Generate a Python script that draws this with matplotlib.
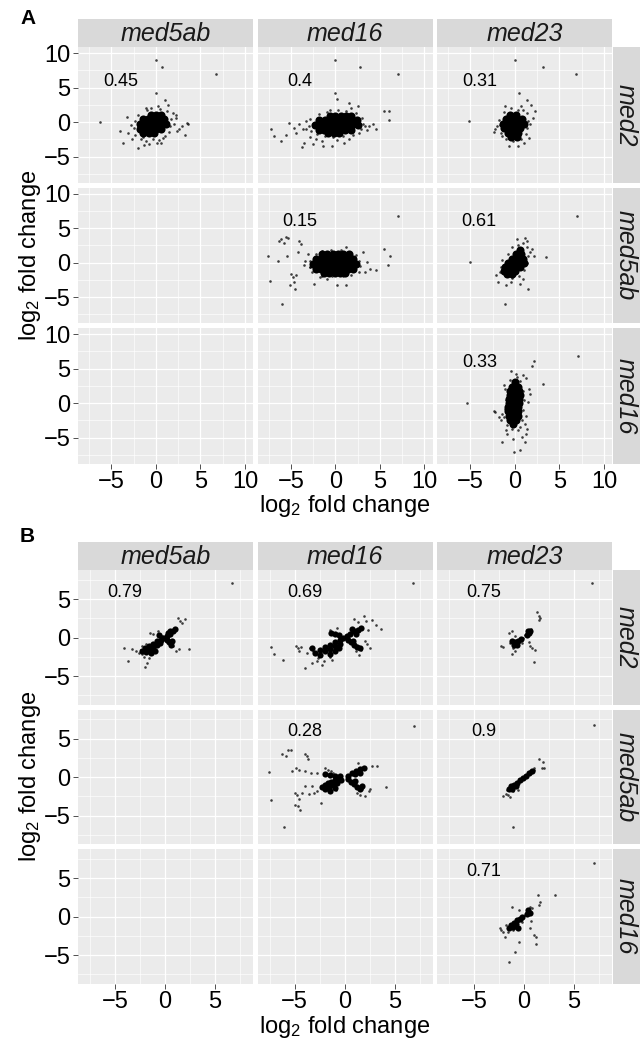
import matplotlib
matplotlib.use("Agg")
import matplotlib.pyplot as plt

plt.rcParams['font.family'] = ['Liberation Sans', 'DejaVu Sans']
plt.rcParams['mathtext.fontset'] = 'custom'
plt.rcParams['mathtext.rm'] = 'Liberation Sans'
plt.rcParams['mathtext.it'] = 'Liberation Sans:italic'

W, H = 642, 1039

col_names = ['med5ab', 'med16', 'med23']
row_names = ['med2', 'med5ab', 'med16']

# correlation labels, (row, col) in the upper triangle
corr_a = {(0, 0): '0.45', (0, 1): '0.4', (0, 2): '0.31',
          (1, 1): '0.15', (1, 2): '0.61', (2, 2): '0.33'}
corr_b = {(0, 0): '0.79', (0, 1): '0.69', (0, 2): '0.75',
          (1, 1): '0.28', (1, 2): '0.9', (2, 2): '0.71'}

ticks_a = [-5, 0, 5, 10]
ticks_b = [-5, 0, 5]
minor_ticks = [-7.5, -2.5, 2.5, 7.5]

# ---- panel A: scattered points and dense cores (log2 fold change) ----
a11_pts = [(0, 9.0), (0.65, 8.0), (6.7, 7.0), (0, 4.3), (-6.3, 0), (1, 3.2), (3.5, -0.1),
           (3.6, -0.2), (3.3, -1.8), (2.6, -1), (2.9, -0.6), (-3.7, -3), (-3.3, 0.7), (-4, -1.3),
           (-2, -3.7), (-1.3, -3.3), (0.1, -3), (1.35, 2.5), (-3.1, -1.5), (-2.7, -2.5),
           (-0.8, -3.2), (1.9, 1.3), (1.7, 0.4), (2.3, 0.6), (0.6, -3), (-1.7, -2.5), (-1.15, 2.0),
           (0.2, 2.3), (-2.4, 0.2), (-2.5, -0.8), (-2.3, -1.8), (-1.0, 1.7), (0.5, 1.9), (1.6, -0.5),
           (1.5, -1.4), (0.8, -2.3), (-0.3, -2.5), (-1.5, -2.2), (2.0, -0.2), (-2.8, -0.4),
           (1.2, 1.6), (-0.5, 2.0), (2.2, 1.0), (-2.0, 1.0), (1.0, -2.0), (-1.1, -2.8),
           (0.4, -2.6), (2.4, -1.3)]
a11_core = [(-0.6, 1.0), (0.0, 1.0), (0.6, 1.0),
            (-1.5, 0.4), (-0.9, 0.4), (-0.3, 0.4), (0.3, 0.4), (0.9, 0.4),
            (-1.8, -0.3), (-1.2, -0.3), (-0.6, -0.3), (0.0, -0.3), (0.6, -0.3), (1.1, -0.3),
            (-1.8, -1.0), (-1.2, -1.0), (-0.6, -1.0), (0.0, -1.0), (0.6, -1.0),
            (-1.4, -1.6), (-0.8, -1.6), (-0.2, -1.6)]

a12_pts = [(0, 9), (2.8, 8), (7, 7), (0, 4.3), (0.2, 3.3), (-7.2, -1), (-6.9, -2), (-6.1, -2.8),
           (-5.6, -1.8), (-5.2, -0.1), (-4.7, -0.8), (-4.4, -1.6), (-3.8, -3.6), (-3.5, -2.95),
           (-2.9, -2.2), (-4.1, -0.2), (-3.65, -1.05), (-3.3, 0.15), (-2.5, -3.2), (-1.35, -3.4),
           (-0.4, -3.4), (1, -2.95), (1.5, 2.75), (2.5, 2.3), (3.3, -0.6), (3.8, -0.5), (4.2, -0.3),
           (3.5, -1.15), (4.6, -1.05), (5.4, 1.6), (6, 1.6), (6.0, 0.3), (2.0, -1.9), (1.5, -2.5),
           (-2.1, -1.75), (-1.55, -2.7), (-0.6, 1.8), (1.7, 2.05), (-3.0, -0.5), (-2.9, 0.4),
           (-2.7, -1.3), (-1.8, 1.2), (-0.9, 1.5), (0.3, 1.7), (1.2, 1.6), (2.3, 1.3), (3.0, 0.6),
           (3.1, -0.2), (2.9, -1.0), (2.6, -1.5), (0.9, -2.0), (-0.3, -2.2), (-1.2, -2.0),
           (-3.3, -1.0), (-2.2, -2.4), (0.2, -2.6)]
a12_core = [(-0.6, 0.9), (0.0, 0.9), (0.6, 0.9), (1.2, 0.9), (1.8, 0.9),
            (-1.8, 0.3), (-1.2, 0.3), (-0.6, 0.3), (0, 0.3), (0.6, 0.3), (1.2, 0.3), (1.8, 0.3), (2.4, 0.3),
            (-2.3, -0.4), (-1.7, -0.4), (-1.1, -0.4), (-0.5, -0.4), (0.1, -0.4), (0.7, -0.4),
            (1.3, -0.4), (1.9, -0.4), (2.5, -0.4),
            (-1.9, -1.1), (-1.3, -1.1), (-0.7, -1.1), (-0.1, -1.1), (0.5, -1.1), (1.1, -1.1), (1.7, -1.1),
            (-0.8, -1.6), (-0.2, -1.6), (0.4, -1.6)]

a13_pts = [(0, 9), (3.15, 8), (6.9, 7), (0.45, 4.3), (-5.2, 0.15), (1.4, 3.2), (1.8, 2.5),
           (-2.2, -1.05), (-2, -0.6), (-0.7, -3.4), (0.3, -3.4), (1.05, -2.95), (2.2, 1.6), (2, 0.6),
           (-1.1, 2.3), (0.65, 2.3), (-1.8, 0.3), (-1.7, -0.4), (-1.6, -1.5), (-1.2, 1.5), (0.3, 1.8),
           (1.3, 1.3), (1.5, 0.2), (1.4, -0.8), (1.2, -1.7), (0.7, -2.4), (-0.2, -2.7), (-1.0, -2.5),
           (-1.4, -2.0), (-0.4, 2.0), (1.7, -0.2), (0.9, 1.7), (-2.3, -1.4), (1.6, -2.3)]
a13_core = [(-0.5, 1.1), (0.1, 1.1),
            (-1.0, 0.5), (-0.4, 0.5), (0.2, 0.5), (0.8, 0.5),
            (-1.3, -0.2), (-0.7, -0.2), (-0.1, -0.2), (0.5, -0.2), (1.0, -0.2),
            (-1.2, -0.9), (-0.6, -0.9), (0.0, -0.9), (0.6, -0.9),
            (-0.8, -1.6), (-0.2, -1.6), (0.4, -1.6),
            (-0.4, -2.2), (0.2, -2.2)]

a22_pts = [(7, 6.8), (-6.04, -6.0), (-7.6, 0.9), (-7.3, -2.7), (-6.35, 3.15), (-5.8, 2.9),
           (-5.5, 3.75), (-5.3, 3.6), (-6.15, 3.5), (-6.4, 0.3), (-5.4, 1.0), (-5, -1.6), (-4.8, -2.1),
           (-5.1, -3.2), (-4.5, -3.85), (-4.7, -2.8), (-4.2, 1.5), (-4.05, 3.15), (-3.85, 2.7),
           (-3.45, 0.3), (-3.1, 1.25), (-2.9, -0.65), (-2.4, -3.05), (0.2, -3.3), (5.4, 2.05),
           (6.1, 0.9), (5.9, -0.3), (4.6, -1.0), (3.85, -0.9), (3.1, 1.5), (3.5, 0.05), (1.15, -3.3),
           (-4.4, -1.85), (-1.7, -2.1), (-2.9, 0.2), (-2.8, -0.7), (-2.6, -1.3), (-2.2, 1.2),
           (-1.5, 1.7), (-0.5, 1.9), (0.6, 1.8), (1.5, 1.6), (2.3, 1.1), (2.7, 0.3), (2.8, -0.5),
           (2.6, -1.3), (1.8, -1.8), (0.8, -2.0), (-0.4, -2.0), (-1.5, -1.9), (3.3, -1.3),
           (-3.5, -0.3), (1.2, 2.2), (-1.0, -2.4)]
a22_core = [(-1.5, 1.2), (-0.9, 1.2), (-0.3, 1.2), (0.3, 1.2), (0.9, 1.2), (1.5, 1.2),
            (-2.2, 0.5), (-1.6, 0.5), (-1.0, 0.5), (-0.4, 0.5), (0.2, 0.5), (0.8, 0.5), (1.4, 0.5), (2.0, 0.5),
            (-2.5, -0.2), (-1.9, -0.2), (-1.3, -0.2), (-0.7, -0.2), (-0.1, -0.2), (0.5, -0.2),
            (1.1, -0.2), (1.7, -0.2), (2.3, -0.2),
            (-2.2, -0.9), (-1.6, -0.9), (-1.0, -0.9), (-0.4, -0.9), (0.2, -0.9), (0.8, -0.9),
            (1.4, -0.9), (2.0, -0.9),
            (-1.3, -1.5), (-0.7, -1.5), (-0.1, -1.5), (0.5, -1.5), (1.1, -1.5)]

a23_pts = [(7, 6.8), (-5.1, 0.15), (-1.15, -6.0), (3.45, 0.85), (1.45, -3.85), (0.2, 3.4),
           (1.15, 3.6), (1.35, 3.15), (1.9, 1.95), (2.1, 1.0), (-2.1, -1.85), (-1.9, -2.8),
           (-0.95, -3.3), (0.6, -3.05), (0.95, -2.35), (-0.4, -2.8), (-1.6, -0.6), (-1.5, 0.4),
           (-0.8, 1.2), (-0.3, 2.2), (0.4, 2.5), (1.3, 2.2), (1.5, 1.0), (1.4, 0.0), (1.0, -1.0),
           (0.5, -1.9), (-0.3, -2.2), (-1.0, -2.0), (-1.7, -1.3), (0.9, 2.9), (1.7, 1.6)]
a23_core = [(0.6, 1.8), (0.1, 1.2), (0.7, 1.2),
            (-0.3, 0.6), (0.3, 0.6), (0.9, 0.6),
            (-0.8, 0.0), (-0.2, 0.0), (0.4, 0.0), (1.0, 0.0),
            (-1.1, -0.6), (-0.5, -0.6), (0.1, -0.6), (0.6, -0.6),
            (-1.2, -1.2), (-0.6, -1.2), (0.0, -1.2),
            (-0.9, -1.7), (-0.3, -1.7)]

a33_pts = [(7.05, 6.9), (-5.4, 0), (2.15, 6.05), (1.95, 5.35), (3.1, 2.8), (-0.45, 4.6),
           (-1.4, -5.6), (-0.1, -7.05), (0.6, -6.8), (1.1, -5.6), (1.25, -4.4), (0.8, -4.9),
           (-0.85, -4.4), (-0.25, -5.15), (-1.05, -3.95), (0.3, -3.95), (-2.2, -1.35), (-2.4, -1.2),
           (-1.8, -2.05), (-1.6, -2.5), (1.6, 2.0), (1.45, 0.1), (1.65, 1.3), (1.25, 3.65),
           (0.95, 4.15), (0.1, 4.25), (-1.2, 2.7), (1.1, -3.0), (1.35, -3.7), (-1.1, 2.0),
           (-1.0, 0.5), (-1.1, -0.8), (-1.2, -2.0), (-0.9, -3.2), (0.6, -3.4), (0.8, -2.4),
           (0.9, -1.0), (1.0, 0.5), (0.9, 1.8), (0.6, 3.2), (-0.6, 3.4), (0.2, 3.8), (-1.4, -1.6),
           (1.2, -1.8), (-0.3, -3.8)]
a33_core = [(0.0, 3.0), (-0.3, 2.4), (0.3, 2.4),
            (-0.5, 1.8), (0.0, 1.8), (0.5, 1.8),
            (-0.6, 1.2), (0.0, 1.2), (0.6, 1.2),
            (-0.7, 0.6), (-0.1, 0.6), (0.5, 0.6),
            (-0.7, 0.0), (-0.1, 0.0), (0.5, 0.0),
            (-0.8, -0.6), (-0.2, -0.6), (0.4, -0.6),
            (-0.8, -1.2), (-0.2, -1.2), (0.4, -1.2),
            (-0.7, -1.8), (-0.1, -1.8), (0.4, -1.8),
            (-0.5, -2.4), (0.1, -2.4), (-0.2, -3.0)]

# ---- panel B ----
b11_pts = [(6.65, 7.05), (-4.15, -1.4), (-3.7, -3.05), (-3.3, -1.5), (-2.9, -1.8), (-2.6, -2.05),
           (-2.3, -2.15), (-2, -3.8), (-1.8, -3.35), (-1.6, -2.7), (-2.1, -2.5), (-2.45, -1.6),
           (-2.3, -1.15), (-1.95, -0.85), (-1.55, 0.55), (-1.25, 0.45), (-0.75, 0.8), (-0.6, -0.3),
           (-0.3, 0.15), (0.15, 0.55), (0.45, 0.8), (0.8, 1.0), (0.95, 1.3), (1.3, 2.6), (1.45, 2.15),
           (1.95, 2.4), (1.65, 1.85), (0.25, -0.5), (0.5, -0.75), (0.8, -1.05), (1.1, -1.8),
           (1.4, -1.5), (2.4, -1.5), (0.1, -0.1)]
b11_core = [(-2.3, -1.7), (-1.9, -1.9), (-1.5, -1.6), (-2.0, -1.3), (-1.6, -1.1), (-1.2, -1.3),
            (-1.2, -0.8), (-0.8, -0.9), (-0.8, -0.5), (-0.4, -0.3), (-0.5, -0.7), (-1.0, -1.7),
            (-1.4, -2.0), (-0.2, -0.1), (0.2, 0.2), (0.5, 0.5), (0.8, 0.8), (0.5, 0.9), (1.0, 1.1),
            (0.3, 0.6), (0.2, -0.3), (0.4, -0.6), (0.6, -0.9), (0.7, -0.5), (-0.6, 0.3)]

b12_pts = [(6.85, 7.05), (-7.35, -1.25), (-7.05, -2.15), (-6.2, -2.95), (-4.85, -1.05), (-4.7, -1.4),
           (-4.35, -1.25), (-4.55, -1.8), (-4, -3.9), (-3.3, -3.25), (-2.8, -3.05), (-2.3, -3.55),
           (-2.1, -3.05), (-2.65, -2.6), (-3.15, -1.8), (-3.5, -1.4), (-3.8, -2.05), (-1.45, 1.0),
           (-0.75, 1.2), (-1.5, -2.5), (-1.25, -2.9), (0.95, 2.45), (1.3, 2.0), (1.9, 2.75),
           (2.15, 2.1), (2.75, 2.3), (3.15, 1.65), (3.6, 1.15), (1.7, 1.3), (2.3, 1.0), (2.5, -1.4),
           (2.25, -0.85), (1.65, -1.6), (1.45, -2.25), (1.15, -1.8), (2, -0.5)]
b12_core = [(-3.0, -2.0), (-2.5, -1.6), (-2.5, -2.3), (-2.0, -1.2), (-2.0, -1.8), (-1.5, -0.9),
            (-1.5, -1.5), (-1.5, -2.1), (-1.0, -0.6), (-1.0, -1.1), (-1.0, -1.7), (-0.5, -0.3),
            (-0.5, -0.8), (-0.6, -1.3), (-0.2, -0.1), (-3.3, -1.4), (-1.4, 0.6), (-1.0, 0.5),
            (-0.6, 0.3), (0.2, 0.2), (0.5, 0.5), (0.9, 0.8), (1.3, 1.0), (0.7, 1.1), (1.6, 1.2),
            (1.1, 0.5), (0.3, -0.3), (0.6, -0.6), (0.9, -0.9), (1.2, -1.2), (0.8, -0.4), (1.5, -1.3)]

b13_pts = [(6.8, 7.05), (1.25, 3.3), (1.45, 2.75), (1.6, 2.5), (1.5, 2.3), (0.25, 1.0), (0.5, 0.8),
           (0.7, 1.15), (0.05, 0.35), (-0.1, -0.1), (-1.55, 0.55), (-1.2, 0.8), (-0.95, 0.15),
           (-1.45, -0.75), (-2.3, -1.15), (-2.15, -1.25), (-1.1, -1.4), (-0.95, -1.8), (-1.2, -2.15),
           (-0.7, -0.95), (-0.45, -0.5), (-0.6, -0.3), (-0.25, -0.75), (0.6, -1.05), (0.8, -1.3),
           (1.1, -1.6), (0.5, -0.6), (1.0, -3.15), (0.35, 0.55)]
b13_core = [(-0.9, -0.6), (-0.6, -0.4), (-0.3, -0.2), (-1.0, -1.0), (-0.7, -0.9), (0.3, 0.4),
            (0.5, 0.6), (0.6, 0.9), (0.4, 0.8), (-1.2, -0.5)]

b22_pts = [(6.9, 6.7), (-6.1, -6.45), (-7.35, -2.95), (-7.6, 0.65), (-6.3, 3.0), (-5.9, 2.7),
           (-5.65, 3.55), (-5.35, 3.5), (-4.0, 3.0), (-3.8, 2.7), (-3.7, 2.4), (-5.3, 0.75),
           (-4.85, 1.15), (-4.55, 0.95), (-3.95, 0.75), (-3.4, 0.5), (-2.4, -3.4), (-5, -2.1),
           (-4.8, -2.3), (-4.6, -2.85), (-4.95, -3.6), (-4.7, -3.8), (-4.5, -4.25), (-4.25, -2.0),
           (-3.95, -1.2), (-3.6, -2.15), (-3.05, -2.1), (-2.75, -1.85), (-3.25, -1.2), (-1.95, 1.15),
           (-1.7, 0.95), (-1.35, 0.75), (-1.2, 0.6), (-2.75, 0.5), (1.35, 1.9), (1.9, 1.15),
           (2.75, 1.4), (3.25, 1.4), (4.1, -1.3), (2.55, -1.55), (2.4, -1.85), (2.05, -2.5),
           (1.55, -2.3), (1.2, -2.1), (1.7, -1.55), (-0.85, -1.65), (-2.05, -1.2)]
b22_core = [(-2.3, -1.3), (-2.0, -1.0), (-1.7, -0.8), (-1.4, -0.6), (-1.0, -0.4), (-0.6, -0.2),
            (-2.0, -1.6), (-1.6, -1.3), (-1.2, -1.0), (-0.8, -0.7), (-1.5, -1.8), (-1.0, -1.4),
            (-0.4, -0.4), (-2.0, 0.4), (-1.5, 0.3), (-1.0, 0.2), (-0.5, 0.1), (0.3, 0.2), (0.7, 0.5),
            (1.1, 0.8), (1.5, 1.0), (1.9, 1.2), (1.0, 0.4), (1.5, 0.6), (0.3, -0.3), (0.6, -0.6),
            (0.9, -0.9), (1.2, -1.3), (1.5, -1.6), (1.0, -0.5), (1.7, -1.2)]

b23_pts = [(7.0, 6.8), (-1.1, -6.45), (1.45, 2.4), (1.9, 1.95), (1.75, 1.25), (1.95, 1.25),
           (0.95, 0.95), (0.7, 0.6), (-2.1, -2.5), (-1.85, -2.15), (-1.6, -2.3), (-1.45, -2.6),
           (-1.75, -1.65), (-1.25, -1.45), (-0.9, -1.2), (-0.75, -1.0), (-0.4, -0.55), (-0.05, -0.15),
           (0.25, 0.3), (0.6, 0.75), (1.0, 1.15), (-1.1, -1.85), (-0.6, -1.65)]
b23_core = [(-1.3, -1.2), (-1.0, -1.0), (-0.7, -0.7), (-0.4, -0.4), (-0.1, -0.1), (0.2, 0.2),
            (0.5, 0.5), (0.8, 0.8), (-1.2, -1.6), (-0.8, -1.2), (-1.5, -1.5)]

b33_pts = [(7.0, 6.95), (3.05, 2.75), (1.35, 2.75), (1.55, 1.85), (1.45, 1.45), (0.6, 1.3),
           (0.8, 1.1), (0.45, 0.85), (-1.25, 1.2), (-0.5, 0.85), (-2.45, -1.45), (-2.3, -1.75),
           (-1.95, -2.6), (-2.1, -2.05), (-1.6, -2.05), (-1.45, -1.5), (-1.15, -1.1), (-0.9, -0.75),
           (-0.6, -0.45), (-0.35, -0.2), (-1.8, -1.1), (-1.1, -1.75), (-0.75, -1.5), (-0.5, -3.25),
           (-0.9, -4.55), (-1.5, -5.95), (1.0, -2.4), (1.2, -2.6), (1.15, -3.6), (0.55, -1.45),
           (0.7, -0.55), (0.1, 0.2), (0.25, 0.65), (-0.25, -0.65)]
b33_core = [(-1.3, -1.1), (-1.0, -0.8), (-0.7, -0.5), (-0.4, -0.3), (-1.5, -1.5), (-1.1, -1.3),
            (-0.8, -1.0), (-0.2, 0.0), (0.3, 0.4), (0.4, 0.9), (0.6, 0.5), (-0.6, -1.5)]

panels_a = {(0, 0): (a11_pts, a11_core), (0, 1): (a12_pts, a12_core), (0, 2): (a13_pts, a13_core),
            (1, 1): (a22_pts, a22_core), (1, 2): (a23_pts, a23_core), (2, 2): (a33_pts, a33_core)}
panels_b = {(0, 0): (b11_pts, b11_core), (0, 1): (b12_pts, b12_core), (0, 2): (b13_pts, b13_core),
            (1, 1): (b22_pts, b22_core), (1, 2): (b23_pts, b23_core), (2, 2): (b33_pts, b33_core)}

fig = plt.figure(figsize=(W / 100, H / 100), dpi=100)

col_left = [78, 257.5, 437]
col_w = 175
strip_w = 27
strip_h = 28
BG = '#EBEBEB'
STRIP = '#D9D9D9'


def minus_fmt(v, p):
    return f'{v:g}'.replace('-', '\u2212')


def add_box(left, top, w, h):
    ax = fig.add_axes([left / W, 1 - (top + h) / H, w / W, h / H])
    ax.set_facecolor(STRIP)
    ax.set_xticks([])
    ax.set_yticks([])
    for s in ax.spines.values():
        s.set_visible(False)
    return ax


def draw_block(rows_top, row_h, lim, ticks, panels, corr, core_size, letter, letter_y):
    # column strips
    for c, name in enumerate(col_names):
        sax = add_box(col_left[c], rows_top[0] - strip_h, col_w, strip_h)
        sax.text(0.5, 0.45, name, ha='center', va='center', fontsize=18,
                 style='italic', color='#1A1A1A', transform=sax.transAxes)
    # row strips
    for r, name in enumerate(row_names):
        sax = add_box(col_left[2] + col_w + 1, rows_top[r], strip_w, row_h)
        sax.text(0.45, 0.5, name, ha='center', va='center', fontsize=18, rotation=-90,
                 style='italic', color='#1A1A1A', transform=sax.transAxes)
    for r in range(3):
        for c in range(3):
            ax = fig.add_axes([col_left[c] / W, 1 - (rows_top[r] + row_h) / H,
                               col_w / W, row_h / H])
            ax.set_facecolor(BG)
            ax.set_xlim(lim)
            ax.set_ylim(lim)
            ax.set_xticks(ticks)
            ax.set_yticks(ticks)
            ax.set_xticks(minor_ticks, minor=True)
            ax.set_yticks(minor_ticks, minor=True)
            ax.grid(which='major', color='white', linewidth=0.9)
            ax.grid(which='minor', color='white', linewidth=0.45)
            ax.set_axisbelow(True)
            for s in ax.spines.values():
                s.set_visible(False)
            ax.tick_params(which='minor', length=0)
            ax.tick_params(which='major', length=3.5, width=0.6, color='#333333',
                           labelsize=17, labelcolor='black', pad=2)
            ax.tick_params(labelleft=(c == 0), left=(c == 0),
                           labelbottom=(r == 2), bottom=(r == 2))
            ax.xaxis.set_major_formatter(plt.FuncFormatter(minus_fmt))
            ax.yaxis.set_major_formatter(plt.FuncFormatter(minus_fmt))
            if (r, c) in panels:
                pts, core = panels[(r, c)]
                ax.scatter([p[0] for p in core], [p[1] for p in core], s=core_size,
                           color='black', linewidths=0)
                ax.scatter([p[0] for p in pts], [p[1] for p in pts], s=3.5,
                           color='black', alpha=0.75, linewidths=0)
                ax.text(-4, 5.9, corr[(r, c)], ha='center', va='center', fontsize=13)
    mid = (rows_top[0] + rows_top[2] + row_h) / 2
    fig.text(30 / W, 1 - mid / H, 'log$_2$ fold change', rotation=90, ha='center',
             va='center', fontsize=17)
    bottom = rows_top[2] + row_h
    fig.text(345 / W, 1 - (bottom + 43) / H, 'log$_2$ fold change', ha='center',
             va='center', fontsize=17)
    fig.text(20 / W, 1 - letter_y / H, letter, ha='left', va='center', fontsize=15,
             fontweight='bold')


draw_block([47, 187.5, 328], 135.5, (-8.75, 10.9), ticks_a, panels_a, corr_a, 34, 'A', 19)
draw_block([570, 709.5, 849], 134.5, (-8.7, 8.8), ticks_b, panels_b, corr_b, 20, 'B', 537)

fig.savefig('out.png', dpi=100)
